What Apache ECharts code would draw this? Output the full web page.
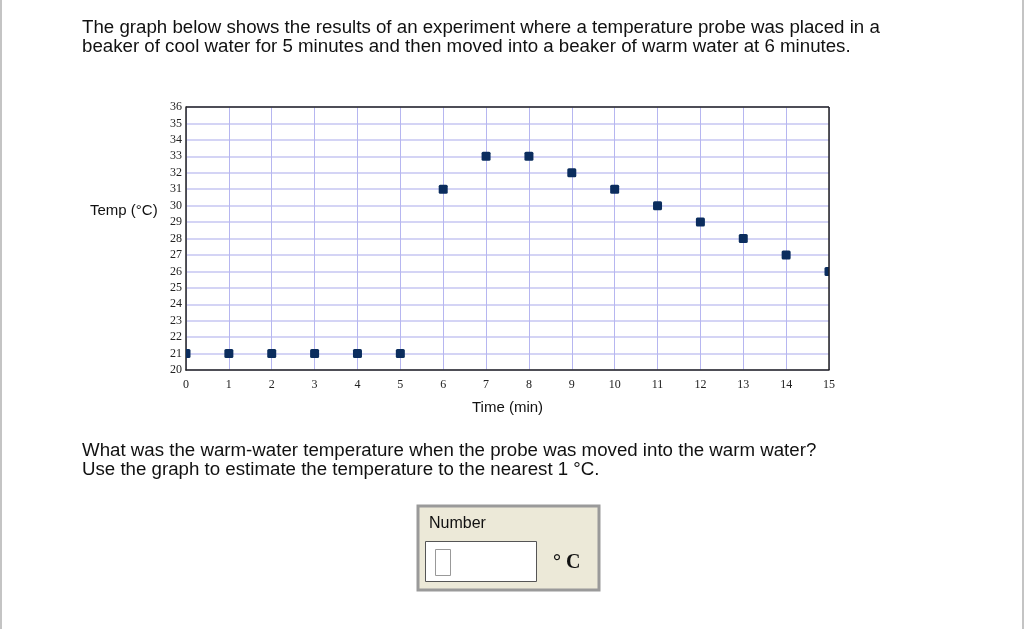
<!DOCTYPE html>
<html>
<head>
<meta charset="utf-8">
<script src="https://cdn.jsdelivr.net/npm/echarts@6/dist/echarts.min.js"></script>
<style>
html,body{margin:0;padding:0;background:#fff;}
#chart{width:1024px;height:629px;}
</style>
</head>
<body>
<div id="chart"></div>
<script>
// Data
const times = [0,1,2,3,4,5,6,7,8,9,10,11,12,13,14,15];
const temps = [21,21,21,21,21,21,31,33,33,32,31,30,29,28,27,26];
const introLines = [
  'The graph below shows the results of an experiment where a temperature probe was placed in a',
  'beaker of cool water for 5 minutes and then moved into a beaker of warm water at 6 minutes.'
];
const questionLines = [
  'What was the warm-water temperature when the probe was moved into the warm water?',
  'Use the graph to estimate the temperature to the nearest 1 \u00B0C.'
];
const yAxisTitle = 'Temp (\u00B0C)';
const xAxisTitle = 'Time (min)';
const answerLabel = 'Number';
const unitLabel = '\u00B0 C';

const points = times.map((t, i) => [t, temps[i]]);
const sans = 'Liberation Sans, Arial, sans-serif';
const serif = 'Liberation Serif, Times New Roman, serif';
const markerSize = 9;

const chart = echarts.init(document.getElementById('chart'));
chart.setOption({
  animation: false,
  backgroundColor: '#ffffff',
  grid: { left: 186, right: 195, top: 107, bottom: 259, show: false },
  xAxis: {
    type: 'value', min: 0, max: 15, interval: 1,
    name: xAxisTitle, nameLocation: 'middle', nameGap: 30,
    nameTextStyle: { fontFamily: sans, fontSize: 15, color: '#111' },
    axisLine: { show: true, onZero: false, lineStyle: { color: '#222', width: 1.5 } },
    axisTick: { show: false },
    axisLabel: { fontFamily: serif, fontSize: 12, color: '#222', margin: 9 },
    splitLine: { show: true, lineStyle: { color: '#b6b6f0', width: 1 } }
  },
  yAxis: {
    type: 'value', min: 20, max: 36, interval: 1,
    axisLine: { show: true, onZero: false, lineStyle: { color: '#222', width: 1.5 } },
    axisTick: { show: false },
    axisLabel: { fontFamily: serif, fontSize: 12, color: '#222', margin: 4 },
    splitLine: { show: true, lineStyle: { color: '#c6c6f2', width: 1.5 } }
  },
  series: [{
    type: 'custom',
    data: points,
    clip: true,
    z: 5,
    renderItem: function (params, api) {
      const p = api.coord([api.value(0), api.value(1)]);
      const s = markerSize;
      return {
        type: 'rect',
        shape: { x: p[0] - s / 2, y: p[1] - s / 2, width: s, height: s, r: 1.5 },
        style: { fill: '#0b2d5e' }
      };
    }
  }],
  graphic: [
    // page side borders
    { type: 'rect', left: 0, top: 0, shape: { width: 2, height: 629 }, style: { fill: '#c4c4c4' }, silent: true },
    { type: 'rect', left: 1022, top: 0, shape: { width: 2, height: 629 }, style: { fill: '#c4c4c4' }, silent: true },
    // plot frame top and right
    { type: 'line', shape: { x1: 186, y1: 107, x2: 829, y2: 107 }, style: { stroke: '#222', lineWidth: 1.5 }, z: 10 },
    { type: 'line', shape: { x1: 829, y1: 107, x2: 829, y2: 370 }, style: { stroke: '#222', lineWidth: 1.5 }, z: 10 },
    // intro text
    { type: 'text', left: 82, top: 18, style: { text: introLines.join('\n'), font: '18.7px ' + sans, fill: '#111', lineHeight: 19 } },
    // y-axis title
    { type: 'text', left: 90, top: 203, style: { text: yAxisTitle, font: '15px ' + sans, fill: '#111' } },
    // question text
    { type: 'text', left: 82, top: 441, style: { text: questionLines.join('\n'), font: '18.7px ' + sans, fill: '#111', lineHeight: 19 } },
    // answer box
    { type: 'rect', shape: { x: 418, y: 506, width: 181, height: 84 }, style: { fill: '#ece9d8', stroke: '#9a9a9a', lineWidth: 3 } },
    { type: 'text', left: 429, top: 516, style: { text: answerLabel, font: '16px ' + sans, fill: '#111' } },
    { type: 'rect', shape: { x: 425.5, y: 541.5, width: 111, height: 40 }, style: { fill: '#ffffff', stroke: '#555', lineWidth: 1 } },
    { type: 'rect', shape: { x: 435.5, y: 549.5, width: 15, height: 26 }, style: { fill: '#ffffff', stroke: '#999', lineWidth: 1 } },
    { type: 'text', left: 553, top: 553, style: { text: unitLabel, font: 'bold 20px ' + serif, fill: '#111' } }
  ]
});
</script>
</body>
</html>
